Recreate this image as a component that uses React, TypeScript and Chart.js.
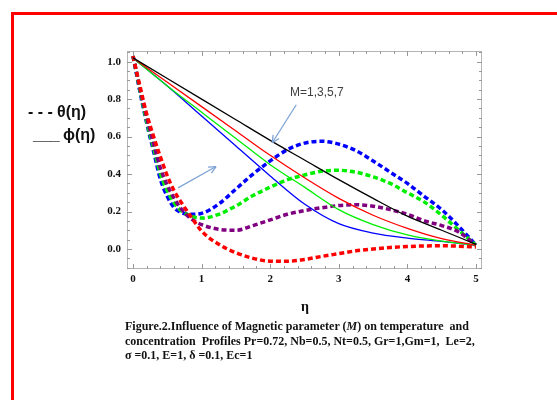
import React, { useEffect, useRef } from "react";
import { Chart, registerables } from "chart.js";
Chart.register(...registerables);

// eta grid for concentration (solid) curves
const etaSolid = [0, 0.5, 1, 1.5, 2, 2.5, 3, 3.5, 4, 4.5, 5];
const phiBlack = [1.02, 0.91, 0.8, 0.69, 0.58, 0.475, 0.37, 0.27, 0.175, 0.1, 0.025];
const phiRed = [1.02, 0.89, 0.76, 0.63, 0.5, 0.38, 0.27, 0.18, 0.11, 0.055, 0.02];
const phiGreen = [1.02, 0.87, 0.73, 0.59, 0.45, 0.33, 0.21, 0.13, 0.075, 0.042, 0.02];
const phiBlue = [1.02, 0.87, 0.71, 0.55, 0.39, 0.24, 0.135, 0.085, 0.058, 0.04, 0.02];

// eta grid for temperature (dashed) curves
const etaDashed = [0, 0.1, 0.2, 0.3, 0.4, 0.5, 0.6, 0.7, 0.85, 1, 1.25, 1.5, 1.75, 2, 2.25, 2.5, 2.75, 3, 3.25, 3.5, 3.75, 4, 4.25, 4.5, 4.75, 5];
const thetaBlue = [1.03, 0.84, 0.67, 0.52, 0.37, 0.28, 0.22, 0.195, 0.185, 0.19, 0.24, 0.32, 0.4, 0.47, 0.53, 0.565, 0.575, 0.56, 0.525, 0.47, 0.41, 0.35, 0.28, 0.21, 0.12, 0.02];
const thetaGreen = [1.03, 0.85, 0.68, 0.54, 0.4, 0.31, 0.245, 0.205, 0.175, 0.165, 0.185, 0.23, 0.285, 0.33, 0.37, 0.395, 0.415, 0.42, 0.41, 0.385, 0.35, 0.3, 0.25, 0.18, 0.1, 0.02];
const thetaPurple = [1.03, 0.86, 0.7, 0.56, 0.43, 0.34, 0.27, 0.215, 0.16, 0.13, 0.105, 0.1, 0.125, 0.155, 0.185, 0.205, 0.22, 0.232, 0.236, 0.228, 0.21, 0.185, 0.15, 0.125, 0.09, 0.02];
const thetaRed = [1.03, 0.87, 0.72, 0.6, 0.49, 0.39, 0.31, 0.25, 0.17, 0.095, 0.025, -0.02, -0.05, -0.065, -0.066, -0.056, -0.04, -0.025, -0.01, 0, 0.008, 0.013, 0.016, 0.017, 0.015, 0.01];

const xTicks = [0, 1, 2, 3, 4, 5];
const yTicks = [0, 0.2, 0.4, 0.6, 0.8, 1.0];

// annotation arrows in data coordinates [eta, value]
const arrowFrom = [[2.38, 0.77], [0.656, 0.326]];
const arrowTo = [[2.03, 0.567], [1.21, 0.44]];

const pts = (xs: number[], ys: number[]) => xs.map((x, i) => ({ x, y: ys[i] }));

const framePlugin = {
  id: "frameTicks",
  afterDatasetsDraw(chart: any) {
    const { ctx, chartArea: a, scales } = chart;
    const x = scales.x, y = scales.y;
    ctx.save();
    ctx.strokeStyle = "#b4b4b4";
    ctx.lineWidth = 1;
    ctx.strokeRect(a.left + 0.5, a.top + 0.5, a.right - a.left - 1, a.bottom - a.top - 1);
    const seg = (x1: number, y1: number, x2: number, y2: number) => {
      ctx.beginPath(); ctx.moveTo(x1, y1); ctx.lineTo(x2, y2); ctx.stroke();
    };
    ctx.strokeStyle = "#999999";
    for (let i = 0; i <= 25; i++) {
      const v = i * 0.2;
      const px = Math.round(x.getPixelForValue(v)) + 0.5;
      const len = i % 5 === 0 ? 5 : 3;
      seg(px, a.bottom, px, a.bottom - len);
      seg(px, a.top, px, a.top + len);
    }
    for (let i = -2; i <= 21; i++) {
      const v = i * 0.05;
      const py = Math.round(y.getPixelForValue(v)) + 0.5;
      if (py < a.top || py > a.bottom) continue;
      const len = i % 4 === 0 ? 5 : 3;
      seg(a.left, py, a.left + len, py);
      seg(a.right, py, a.right - len, py);
    }
    // arrows
    ctx.strokeStyle = "#7ea4d6";
    ctx.lineWidth = 1.3;
    for (let k = 0; k < arrowFrom.length; k++) {
      const x1 = x.getPixelForValue(arrowFrom[k][0]);
      const y1 = y.getPixelForValue(arrowFrom[k][1]);
      const x2 = x.getPixelForValue(arrowTo[k][0]);
      const y2 = y.getPixelForValue(arrowTo[k][1]);
      seg(x1, y1, x2, y2);
      const ang = Math.atan2(y2 - y1, x2 - x1);
      const h = 8;
      seg(x2, y2, x2 - h * Math.cos(ang - 0.45), y2 - h * Math.sin(ang - 0.45));
      seg(x2, y2, x2 - h * Math.cos(ang + 0.45), y2 - h * Math.sin(ang + 0.45));
    }
    ctx.restore();
  },
};

export default function App() {
  const ref = useRef<HTMLCanvasElement>(null);
  useEffect(() => {
    const solid = (data: number[], color: string) => ({
      data: pts(etaSolid, data),
      borderColor: color,
      borderWidth: 1.3,
      pointRadius: 0,
      cubicInterpolationMode: "monotone" as const,
      fill: false,
    });
    const dashed = (data: number[], color: string) => ({
      data: pts(etaDashed, data),
      borderColor: color,
      borderWidth: 3.5,
      borderDash: [5, 3],
      pointRadius: 0,
      cubicInterpolationMode: "monotone" as const,
      fill: false,
    });
    const chart = new Chart(ref.current!, {
      type: "line",
      data: {
        datasets: [
          solid(phiBlack, "#000000"),
          solid(phiRed, "#ff0000"),
          solid(phiGreen, "#00ee00"),
          solid(phiBlue, "#0000ff"),
          dashed(thetaRed, "#ff0000"),
          dashed(thetaPurple, "#800080"),
          dashed(thetaGreen, "#00ee00"),
          dashed(thetaBlue, "#0000ff"),
        ],
      },
      options: {
        responsive: false,
        animation: false,
        layout: { padding: { left: 0, top: 51, right: 75, bottom: 0 } },
        plugins: { legend: { display: false }, tooltip: { enabled: false } },
        scales: {
          x: {
            type: "linear",
            min: -0.088,
            max: 5.088,
            grid: { display: false, drawTicks: false },
            border: { display: false },
            afterBuildTicks: (s: any) => { s.ticks = xTicks.map((v) => ({ value: v })); },
            afterFit: (s: any) => { s.height = 131; },
            ticks: {
              padding: 4,
              color: "#111",
              font: { family: "Liberation Serif", weight: "bold", size: 11 },
              callback: (v: any) => String(v),
            },
          },
          y: {
            type: "linear",
            min: -0.107,
            max: 1.057,
            grid: { display: false, drawTicks: false },
            border: { display: false },
            afterBuildTicks: (s: any) => { s.ticks = yTicks.map((v) => ({ value: v })); },
            afterFit: (s: any) => { s.width = 127; },
            ticks: {
              padding: 6,
              color: "#111",
              font: { family: "Liberation Serif", weight: "bold", size: 11 },
              callback: (v: any) => Number(v).toFixed(1),
            },
          },
        },
      },
      plugins: [framePlugin],
    });
    return () => chart.destroy();
  }, []);

  const abs = (o: any) => ({ position: "absolute", whiteSpace: "nowrap", ...o });
  const legendFont = { fontFamily: "Liberation Sans", fontWeight: "bold", fontSize: 16, color: "#111", lineHeight: "18px" };
  const capFont = { fontFamily: "Liberation Serif", fontWeight: "bold", fontSize: 12, color: "#111", lineHeight: "14.5px" };

  return (
    <div style={{ position: "fixed", left: 0, top: 0, width: 557, height: 400, overflow: "hidden", background: "#fff" }}>
      <div style={abs({ left: 11, top: 12, width: 700, height: 600, border: "3px solid #ff0000" })} />
      <canvas ref={ref} width={557} height={400} style={{ position: "absolute", left: 0, top: 0, width: 557, height: 400 }} />
      <div style={abs({ left: 28, top: 103, ...legendFont })}>- - -</div>
      <div style={abs({ left: 57, top: 103, ...legendFont })}>θ(η)</div>
      <div style={abs({ left: 33, top: 126, ...legendFont })}>___</div>
      <div style={abs({ left: 63, top: 126, ...legendFont })}>ϕ(η)</div>
      <div style={abs({ left: 290, top: 85, fontFamily: "Liberation Sans", fontSize: 12, color: "#404040", lineHeight: "15px" })}>M=1,3,5,7</div>
      <div style={abs({ left: 0, width: 610, top: 298, textAlign: "center", fontFamily: "Liberation Serif", fontWeight: "bold", fontSize: 14, color: "#111", lineHeight: "18px" })}>η</div>
      <div style={abs({ left: 125, top: 319, ...capFont })}>
        <div>Figure.2.Influence of Magnetic parameter (<i>M</i>) on temperature&nbsp; and</div>
        <div>concentration&nbsp; Profiles Pr=0.72, Nb=0.5, Nt=0.5, Gr=1,Gm=1,&nbsp; Le=2,</div>
        <div>σ =0.1, E=1, δ =0.1, Ec=1</div>
      </div>
    </div>
  );
}
